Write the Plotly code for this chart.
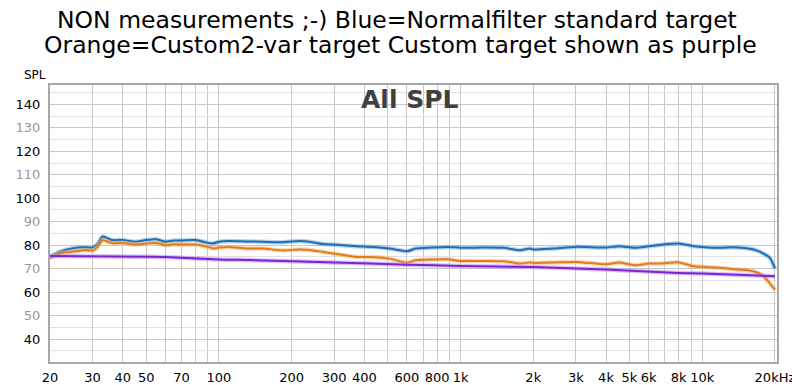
import plotly.graph_objects as go
import math

# ---- data ----
freq = [20, 22, 25, 28, 30, 31.5, 33, 36, 40, 45, 50, 55, 60, 65, 70, 80, 90, 95, 100, 110,
        130, 152, 184, 216, 237, 268, 306, 372, 434, 508, 600, 651, 759, 890, 1000, 1237,
        1504, 1760, 1940, 2000, 2410, 3000, 4000, 4530, 5290, 6000, 6780, 8000, 9100,
        10000, 11840, 13500, 15500, 17000, 18000, 19000, 20000]
blue = [75.1, 77.3, 78.7, 79.1, 79.0, 80.5, 83.7, 82.2, 82.2, 81.5, 82.2, 82.5, 81.5, 82.0,
        82.0, 82.2, 81.0, 80.8, 81.5, 81.8, 81.6, 81.5, 81.3, 81.8, 81.5, 80.5, 80.2, 79.6,
        79.3, 78.6, 77.4, 78.6, 79.0, 79.3, 78.9, 79.0, 78.9, 77.9, 78.6, 78.2, 78.6, 79.3,
        79.0, 79.6, 78.9, 79.6, 80.2, 80.7, 79.7, 79.3, 78.9, 79.1, 78.6, 77.6, 76.3, 74.8,
        70.2]
orange = [74.5, 76.6, 77.3, 78.0, 77.7, 79.3, 82.2, 80.9, 81.0, 80.3, 80.7, 81.0, 80.0, 80.4,
          80.3, 80.3, 79.3, 78.6, 79.0, 79.3, 78.6, 78.6, 77.8, 78.2, 78.0, 77.2, 76.3, 75.0,
          75.0, 74.3, 72.5, 73.6, 73.9, 74.0, 73.3, 73.3, 73.2, 72.2, 72.7, 72.5, 72.6, 72.9,
          71.9, 72.6, 71.5, 72.2, 72.2, 72.7, 71.2, 70.8, 70.4, 69.8, 69.4, 68.3, 66.6, 64.0,
          61.0]
target_freq = [20, 50, 60, 100, 134, 300, 600, 1000, 2000, 4000, 8000, 10000, 20000]
target = [75.4, 75.1, 75.0, 73.9, 73.7, 72.7, 71.7, 71.2, 70.7, 69.7, 68.2, 68.0, 66.8]

x_tickvals = [20, 30, 40, 50, 70, 100, 200, 300, 400, 600, 800, 1000, 2000, 3000, 4000,
              5000, 6000, 8000, 10000, 20000]
x_ticktext = ["20", "30", "40", "50", "70", "100", "200", "300", "400", "600", "800", "1k",
              "2k", "3k", "4k", "5k", "6k", "8k", "10k", "20kHz"]
x_minor = [60, 80, 90, 500, 700, 900, 7000, 9000]
x_decades = [100, 1000, 10000]
y_tickvals = [40, 50, 60, 70, 80, 90, 100, 110, 120, 130, 140]

title_lines = ["NON measurements ;-) Blue=Normalfilter standard target",
               "Orange=Custom2-var target Custom target shown as purple"]

# ---- figure ----
font = "DejaVu Sans"
y_ticktext = [(str(v) if v % 20 == 0 else '<span style="color:#999999">%d</span>' % v)
              for v in y_tickvals]

OFF = 8  # default page body margin
FW, FH = 800 - OFF, 385 - OFF
# plot area in page pixels
L, R, T, B = 50, 777, 85, 362
W, H = R - L, B - T


def px(x):
    return (x - L) / W


def py(y):
    return (B - y) / H


fig = go.Figure()

series = [
    (freq, blue, "#1f6db5", "rgba(120,175,225,0.55)"),
    (freq, orange, "#e07d1a", "rgba(240,180,120,0.55)"),
    (target_freq, target, "#7a24d6", "rgba(190,140,240,0.55)"),
]
for xs, ys, col, halo in series:
    fig.add_trace(go.Scatter(x=xs, y=ys, mode="lines", xaxis="x2",
                             line=dict(color=halo, width=4.5, shape="spline", smoothing=0.6),
                             hoverinfo="skip", showlegend=False))
    fig.add_trace(go.Scatter(x=xs, y=ys, mode="lines", xaxis="x2",
                             line=dict(color=col, width=2, shape="spline", smoothing=0.6),
                             showlegend=False))

xr = [math.log10(20), math.log10(20400)]

annotations = [
    dict(text=title_lines[0], xref="paper", yref="paper", x=px(396.7), y=py(20),
         xanchor="center", yanchor="middle", showarrow=False,
         font=dict(family=font, size=23.5, color="black")),
    dict(text=title_lines[1], xref="paper", yref="paper", x=px(400), y=py(45),
         xanchor="center", yanchor="middle", showarrow=False,
         font=dict(family=font, size=23.5, color="black")),
    dict(text="SPL", xref="paper", yref="paper", x=px(35), y=py(75),
         xanchor="center", yanchor="middle", showarrow=False,
         font=dict(family=font, size=12, color="black")),
    dict(text="<b>All SPL</b>", xref="paper", yref="paper", x=px(410),
         y=py(99), xanchor="center", yanchor="middle", showarrow=False,
         font=dict(family=font, size=25, color="#404040")),
]

fig.update_layout(
    width=FW, height=FH,
    margin=dict(l=L - OFF, r=FW - (R - OFF), t=T - OFF, b=FH - (B - OFF), autoexpand=False),
    paper_bgcolor="white", plot_bgcolor="white",
    font=dict(family=font, size=13, color="black"),
    showlegend=False,
    xaxis=dict(type="log", range=xr, tickmode="array", tickvals=x_decades,
               showticklabels=False, showgrid=True, gridcolor="#8c8c8c", gridwidth=1,
               ticks="", zeroline=False, showline=False, automargin=False),
    xaxis2=dict(type="log", range=xr, overlaying="x", side="bottom",
                tickmode="array", tickvals=x_tickvals, ticktext=x_ticktext,
                showgrid=True, gridcolor="#c8c8c8", gridwidth=1, ticks="",
                ticklabelstandoff=2, automargin=False,
                minor=dict(tickmode="array", tickvals=x_minor, showgrid=True,
                           gridcolor="#c8c8c8", gridwidth=1, ticks=""),
                showline=True, linecolor="#a8a8a8", linewidth=2, mirror=True,
                tickfont=dict(family=font, size=13, color="black"), zeroline=False),
    yaxis=dict(range=[30.3, 148.2], tickmode="array", tickvals=y_tickvals,
               ticktext=y_ticktext, showgrid=True, gridcolor="#c8c8c8", gridwidth=1,
               ticks="", ticklabelstandoff=5, automargin=False,
               minor=dict(dtick=5, tick0=0, showgrid=True, gridcolor="#e2e2e2", gridwidth=1,
                          ticks=""),
               showline=True, linecolor="#a8a8a8", linewidth=2, mirror=True,
               tickfont=dict(family=font, size=13, color="black"), zeroline=False),
    annotations=annotations,
)

fig.write_html("out.html")
